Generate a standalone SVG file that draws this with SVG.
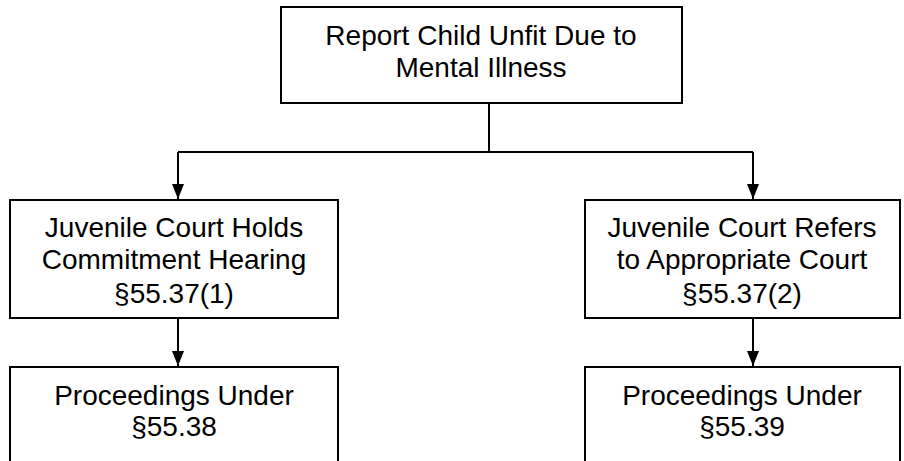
<svg xmlns="http://www.w3.org/2000/svg" width="904" height="461" viewBox="0 0 904 461">
<defs>
<style>
.box{fill:#fff;stroke:#000;stroke-width:2}
.t{font-family:"Liberation Sans",Arial,sans-serif;font-size:28px;fill:#000;text-anchor:middle}
.ln{fill:none;stroke:#000;stroke-width:2}
</style>
<marker id="ah" markerWidth="15" markerHeight="12" refX="15" refY="6" orient="auto" markerUnits="userSpaceOnUse" viewBox="0 0 15 12">
<path d="M0,0 L15,6 L0,12 Z" fill="#000"/>
</marker>
</defs>
<rect width="904" height="461" fill="#fff"/>
<g id="connectors">
<path class="ln" d="M489,103 V152"/>
<path class="ln" d="M178,152 H753"/>
<path class="ln" d="M178,152 V199" marker-end="url(#ah)"/>
<path class="ln" d="M753,152 V199" marker-end="url(#ah)"/>
<path class="ln" d="M178,318 V366" marker-end="url(#ah)"/>
<path class="ln" d="M753,318 V366" marker-end="url(#ah)"/>
</g>
<g id="n-report">
<rect class="box" x="281" y="7" width="401" height="96"/>
<text class="t" x="481" y="45">Report Child Unfit Due to</text>
<text class="t" x="481" y="77">Mental Illness</text>
</g>
<g id="n-hearing">
<rect class="box" x="10" y="200" width="328" height="118"/>
<text class="t" x="174" y="237">Juvenile Court Holds</text>
<text class="t" x="174" y="269">Commitment Hearing</text>
<text class="t" x="174" y="303">§55.37(1)</text>
</g>
<g id="n-refers">
<rect class="box" x="585" y="200" width="315" height="118"/>
<text class="t" x="742" y="237">Juvenile Court Refers</text>
<text class="t" x="742" y="269">to Appropriate Court</text>
<text class="t" x="742" y="303">§55.37(2)</text>
</g>
<g id="n-p38">
<rect class="box" x="10" y="367" width="328" height="110"/>
<text class="t" x="174" y="405">Proceedings Under</text>
<text class="t" x="174" y="436">§55.38</text>
</g>
<g id="n-p39">
<rect class="box" x="585" y="367" width="315" height="110"/>
<text class="t" x="742" y="405">Proceedings Under</text>
<text class="t" x="742" y="436">§55.39</text>
</g>
</svg>
